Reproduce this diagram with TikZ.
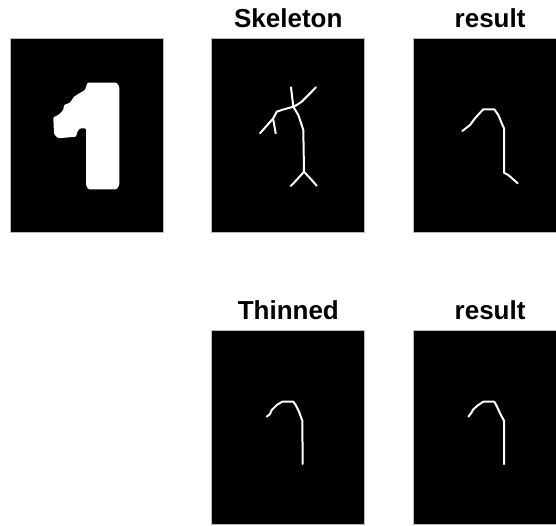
\documentclass[tikz,border=0pt]{standalone}
\usepackage{fontspec}
\setmainfont{Liberation Sans}
\usetikzlibrary{positioning}

\begin{document}
\begin{tikzpicture}[x=1pt, y=-1pt,
    panel/.style={draw=gray!55, line width=0.8pt, fill=black, inner sep=0pt,
      minimum width=153pt, minimum height=194pt},
    title/.style={inner sep=0pt, font=\fontsize{26}{30}\selectfont\bfseries},
    stroke/.style={white, line width=2pt, line join=round, line cap=round}]
  \clip (0,0) rectangle (556,525);
  \fill[white] (0,0) rectangle (556,525);

  % panels
  \node[panel] (orig) at (86.5,135.5) {};
  \node[panel, right=48pt of orig] (skel) {};
  \node[panel, right=48pt of skel] (skelres) {};
  \node[panel, below=97pt of skel] (thin) {};
  \node[panel, right=48pt of thin] (thinres) {};

  % titles
  \node[title, above=10pt of skel.north] (tskel) {Skeleton};
  \node[title, above=10pt of skelres.north] (tskelres) {result};
  \node[title, above=10pt of thin.north] (tthin) {Thinned};
  \node[title, above=10pt of thinres.north] (tthinres) {result};

  % digit
  \fill[white, rounded corners=1pt] (87.3,82.7) -- (116.7,82.7) -- (119.3,86.7)
    -- (119.3,185) -- (116.7,189.3) -- (88.3,189.3) -- (86,185) -- (86,128.3)
    -- (80,128.3) -- (77.3,131.7) -- (76,136.7) -- (58.3,138.3) -- (54,134)
    -- (53.3,117.3) -- (58.3,115) -- (63.3,110) -- (64,105) -- (70,102.7)
    -- (74,96.7) -- (79.3,93.3) -- (85,90) -- (86.7,85) -- cycle;

  % skeleton
  \draw[stroke] (291,87.3) -- (293.3,106.7);
  \draw[stroke] (316,87.3) -- (301.7,101.7) -- (296.7,105) -- (293.3,106.7);
  \draw[stroke] (293.3,106.7) -- (281.7,110) -- (276.7,111.7) -- (273.3,118.3)
    -- (260,133.3);
  \draw[stroke] (273.3,120) -- (275.7,133.3);
  \draw[stroke] (293.3,106.7) -- (298.3,115) -- (301.7,125) -- (303.3,130)
    -- (304,171.7);
  \draw[stroke] (304,171.7) -- (295,181.7) -- (290.7,186);
  \draw[stroke] (304,171.7) -- (311.7,180) -- (316.7,185.7);

  % skeleton result
  \draw[stroke] (462.3,131) -- (470,125) -- (475,118.3) -- (481,111.7)
    -- (483.3,109.3) -- (494.3,109.3) -- (498.3,115) -- (501.7,123.3)
    -- (504,128.3) -- (504,172.7) -- (508.3,175) -- (517.7,183.3);

  % thinned
  \draw[stroke] (266.7,416.7) -- (270,414) -- (271.7,410) -- (276.7,405)
    -- (282.3,401.7) -- (293.3,401.7) -- (295.7,405) -- (299,411.7)
    -- (302.3,420.7) -- (302.7,464);

  % thinned result
  \draw[stroke] (468.3,416.7) -- (471,413.3) -- (473.3,409.3) -- (478.3,405)
    -- (483.3,401.7) -- (494.3,401.7) -- (496.7,406) -- (500,413.3)
    -- (504,420.7) -- (504,464);
\end{tikzpicture}
\end{document}
